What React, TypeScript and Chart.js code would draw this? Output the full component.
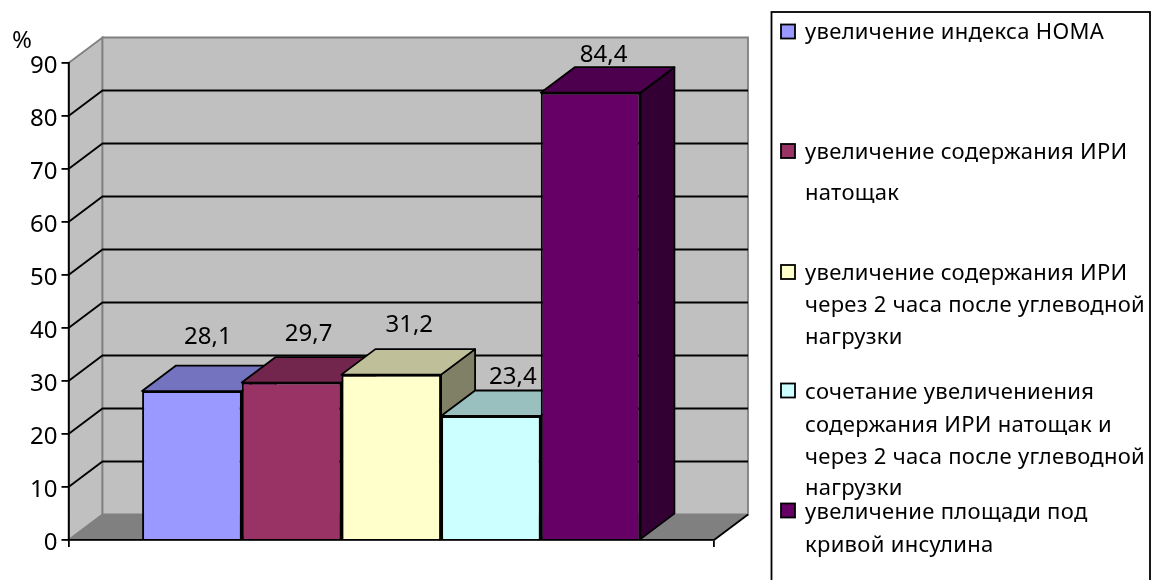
import React, { useEffect, useRef } from "react";
import { Chart, registerables } from "chart.js";

Chart.register(...registerables);

const categories = [""];
const homaValues = [28.1];
const fastingIriValues = [29.7];
const postLoadIriValues = [31.2];
const combinedIriValues = [23.4];
const insulinAreaValues = [84.4];

const seriesValues = [homaValues, fastingIriValues, postLoadIriValues, combinedIriValues, insulinAreaValues];
const seriesLines = [
  ["увеличение индекса НОМА"],
  ["увеличение содержания ИРИ", "натощак"],
  ["увеличение содержания ИРИ", "через 2 часа после углеводной", "нагрузки"],
  ["сочетание увеличениения", "содержания ИРИ натощак и", "через 2 часа после углеводной", "нагрузки"],
  ["увеличение площади под", "кривой инсулина"],
];
const seriesColors = ["#9999FF", "#993366", "#FFFFCC", "#CCFFFF", "#660066"];
const topColors = ["#7373BF", "#73264D", "#BFBF99", "#99BFBF", "#4D004D"];
const sideColors = ["#4D4D80", "#4D1A33", "#808066", "#668080", "#330033"];

// Legend text baselines (one list per entry) and where each value label sits relative to its bar.
const legendLineCentres = [[33], [153, 194], [274, 306, 338], [393, 426, 458, 489], [513, 546]];
const legendMarkerCentres = [31.5, 151, 272, 390.5, 510.5];
const valueLabelOffsets = [[16, -54], [17, -48], [18, -49], [22, -39], [13, -38]];

const DEPTH_X = 34;
const DEPTH_Y = 25.5;
const FONT = '"Noto Sans", sans-serif';
const AXIS_FONT_SIZE = 24;
const LEGEND_FONT_SIZE = 22;
const LINE = 1.8;

function polygon(ctx: CanvasRenderingContext2D, pts: number[][], fill: string, stroke: string, width: number) {
  ctx.beginPath();
  pts.forEach(([x, y], i) => (i ? ctx.lineTo(x, y) : ctx.moveTo(x, y)));
  ctx.closePath();
  ctx.fillStyle = fill;
  ctx.fill();
  ctx.strokeStyle = stroke;
  ctx.lineWidth = width;
  ctx.stroke();
}

function line(ctx: CanvasRenderingContext2D, x1: number, y1: number, x2: number, y2: number, color: string, width: number) {
  ctx.beginPath();
  ctx.moveTo(x1, y1);
  ctx.lineTo(x2, y2);
  ctx.strokeStyle = color;
  ctx.lineWidth = width;
  ctx.stroke();
}

// Back wall, side wall, floor and the grid lines folded across the walls.
const wallsPlugin = {
  id: "walls",
  beforeDraw(chart: any) {
    const { ctx, scales } = chart;
    const left = scales.x.left;
    const right = scales.x.right;
    const y0 = scales.y.getPixelForValue(0);
    const yMax = scales.y.getPixelForValue(90);
    ctx.save();
    const wall = "#C0C0C0";
    const edge = "#808080";
    polygon(ctx, [[left, yMax], [left + DEPTH_X, yMax - DEPTH_Y], [left + DEPTH_X, y0 - DEPTH_Y], [left, y0]], wall, edge, LINE);
    polygon(ctx, [[left + DEPTH_X, yMax - DEPTH_Y], [right + DEPTH_X, yMax - DEPTH_Y], [right + DEPTH_X, y0 - DEPTH_Y], [left + DEPTH_X, y0 - DEPTH_Y]], wall, edge, LINE);
    polygon(ctx, [[left, y0], [left + DEPTH_X, y0 - DEPTH_Y], [right + DEPTH_X, y0 - DEPTH_Y], [right, y0]], edge, edge, 1);
    line(ctx, right, y0, right + DEPTH_X, y0 - DEPTH_Y, "#000000", LINE);
    scales.y.ticks.forEach((t: any) => {
      if (t.value === 0 || t.value === 90) return;
      const y = scales.y.getPixelForValue(t.value);
      ctx.beginPath();
      ctx.moveTo(left, y);
      ctx.lineTo(left + DEPTH_X, y - DEPTH_Y);
      ctx.lineTo(right + DEPTH_X, y - DEPTH_Y);
      ctx.strokeStyle = "#000000";
      ctx.lineWidth = LINE;
      ctx.stroke();
    });
    ctx.restore();
  },
  // Side and top faces of each column; the fronts are the chart's own bars.
  beforeDatasetsDraw(chart: any) {
    const { ctx } = chart;
    ctx.save();
    ctx.lineJoin = "round";
    chart.data.datasets.forEach((_: any, i: number) => {
      const bar = chart.getDatasetMeta(i).data[0];
      const l = bar.x - bar.width / 2;
      const r = bar.x + bar.width / 2;
      polygon(ctx, [[r, bar.y], [r + DEPTH_X, bar.y - DEPTH_Y], [r + DEPTH_X, bar.base - DEPTH_Y], [r, bar.base]], sideColors[i], "#000000", LINE);
      polygon(ctx, [[l, bar.y], [l + DEPTH_X, bar.y - DEPTH_Y], [r + DEPTH_X, bar.y - DEPTH_Y], [r, bar.y]], topColors[i], "#000000", LINE);
    });
    ctx.restore();
  },
  // Value labels, unit caption and the boxed legend.
  afterDatasetsDraw(chart: any) {
    const { ctx } = chart;
    ctx.save();
    ctx.fillStyle = "#000000";
    ctx.textBaseline = "middle";
    ctx.textAlign = "center";
    ctx.font = `${AXIS_FONT_SIZE}px ${FONT}`;
    chart.data.datasets.forEach((ds: any, i: number) => {
      const bar = chart.getDatasetMeta(i).data[0];
      const text = String(ds.data[0]).replace(".", ",");
      ctx.fillText(text, bar.x + valueLabelOffsets[i][0], bar.y + valueLabelOffsets[i][1]);
    });
    ctx.fillText("%", 22, 41);

    ctx.strokeStyle = "#000000";
    ctx.lineWidth = LINE;
    ctx.strokeRect(771.5, 12, 378.5, 600);

    ctx.textAlign = "left";
    ctx.font = `${LEGEND_FONT_SIZE}px ${FONT}`;
    (ctx as any).letterSpacing = "0.3px";
    chart.data.datasets.forEach((ds: any, i: number) => {
      const my = legendMarkerCentres[i];
      ctx.fillStyle = ds.backgroundColor;
      ctx.fillRect(781, my - 7, 14, 14);
      ctx.strokeRect(781, my - 7, 14, 14);
      ctx.fillStyle = "#000000";
      seriesLines[i].forEach((text, k) => ctx.fillText(text, 805, legendLineCentres[i][k]));
    });
    ctx.restore();
  },
};

export default function App() {
  const ref = useRef<HTMLCanvasElement>(null);

  useEffect(() => {
    const chart = new Chart(ref.current!, {
      type: "bar",
      data: {
        labels: categories,
        datasets: seriesValues.map((data, i) => ({
          label: seriesLines[i].join(" "),
          data,
          backgroundColor: seriesColors[i],
          borderColor: "#000000",
          borderWidth: 2,
          barPercentage: 1,
          categoryPercentage: 0.772,
        })),
      },
      options: {
        responsive: false,
        animation: false,
        layout: { padding: { top: 63, right: 439, bottom: 0, left: 0 } },
        plugins: { legend: { display: false }, title: { display: false }, tooltip: { enabled: false } },
        scales: {
          x: {
            afterFit: (s: any) => { s.height = 40; },
            ticks: { display: false },
            border: { color: "#000000", width: LINE },
            grid: { offset: true, drawOnChartArea: false, drawTicks: true, tickLength: 7, color: "#000000", lineWidth: LINE },
          },
          y: {
            min: 0,
            max: 90,
            afterFit: (s: any) => { s.width = 68.5; },
            ticks: { stepSize: 10, padding: 4, labelOffset: 3, color: "#000000", font: { family: FONT, size: AXIS_FONT_SIZE } },
            border: { color: "#000000", width: LINE },
            grid: { drawOnChartArea: false, drawTicks: true, tickLength: 7, color: "#000000", lineWidth: LINE },
          },
        },
      },
      plugins: [wallsPlugin],
    } as any);
    return () => chart.destroy();
  }, []);

  return (
    <div style={{ position: "fixed", left: 0, top: 0, width: 1153, height: 580, background: "#FFFFFF" }}>
      <canvas ref={ref} width={1153} height={580} style={{ display: "block" }} />
    </div>
  );
}
